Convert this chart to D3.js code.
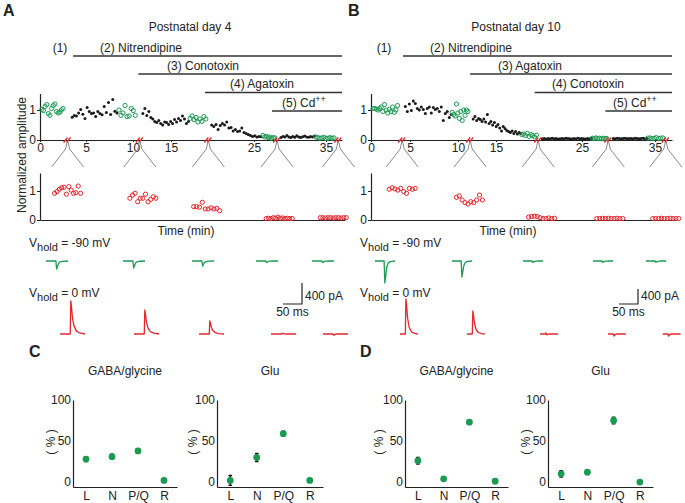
<!DOCTYPE html>
<html><head><meta charset="utf-8">
<script src="https://cdn.jsdelivr.net/npm/d3@7"></script>
<style>body{margin:0;background:#fff}svg{display:block}</style>
</head><body><svg id="c" width="685" height="503"></svg>
<script>
// ---------------- DATA ----------------
const timeTicks = [0, 5, 10, 15, 25, 35];
const timeStops = [0, 5, 10, 15, 25, 35, 37.2];
const ampTicks = [0, 1];
const recEnd = 37.2;

// Panel A (P4)
const drugsA = ["(2) Nitrendipine", "(3) Conotoxin", "(4) Agatoxin", "(5) Cd"];
const drugStartA = [3.6, 10.7, 19.1, 27.5];
const segKindA = ["s","d","s","d","s","d","s","d","s"];
const segStartA = [0.2, 3.5, 8.5, 11.3, 17.3, 19.9, 26.25, 28.75, 33.6];
const segEndA = [2.5, 8.3, 10.3, 17.1, 19.2, 26.0, 27.9, 33.4, 36.1];
const segValsA = [
  [1.02,0.98,1.12,1.18,0.88,0.82,1.05,1.15,1.2,0.95,0.9,0.93,1.0,1.05],
  [0.76,0.82,0.8,0.9,1.02,0.86,0.72,1.08,0.95,0.88,0.9,0.78,0.95,0.88,0.84,1.12,0.92,1.25,0.85,1.35,0.96,0.9],
  [1.0,0.82,0.9,1.15,0.78,0.8,1.05,0.98,0.82],
  [0.88,1.05,0.82,0.95,0.75,0.7,0.62,0.58,0.65,0.55,0.5,0.6,0.58,0.52,0.62,0.55,0.68,0.6,0.72,0.65,0.8,0.7,0.55,0.62],
  [0.72,0.8,0.68,0.75,0.6,0.7,0.62,0.78,0.7],
  [0.5,0.45,0.52,0.35,0.48,0.55,0.5,0.6,0.4,0.42,0.3,0.35,0.28,0.3,0.4,0.25,0.22,0.18,0.15,0.12,0.14,0.1,0.12,0.11],
  [0.15,0.1,0.12,0.08,0.1,0.06,0.08,0.07],
  [0.08,0.12,0.1,0.15,0.1,0.08,0.12,0.09,0.14,0.1,0.08,0.11,0.13,0.1,0.09,0.12,0.1,0.13],
  [0.1,0.08,0.06,0.07,0.09,0.05,0.06,0.08,0.06,0.07]
];
const breakTimesA = [3.0, 10.9, 19.5, 28.2, 36.7];
const groupTimesA = [3.0, 11.3, 19.3, 28.5, 36.0];
const groupValsA = [
  [0.92,0.98,1.06,1.11,1.13,0.89,1.15,1.03,0.92,0.94,1.17,0.92],
  [0.75,0.86,0.92,0.63,0.75,0.75,0.89,0.63,0.71,0.8,0.75],
  [0.46,0.46,0.44,0.61,0.38,0.38,0.42,0.38,0.4,0.32],
  [0.05,0.06,0.05,0.08,0.06,0.1,0.06,0.07,0.05,0.06,0.05,0.05],
  [0.08,0.08,0.07,0.08,0.08,0.07,0.08,0.08,0.07,0.08,0.08]
];

// Panel B (P10)
const drugsB = ["(2) Nitrendipine", "(3) Agatoxin", "(4) Conotoxin", "(5) Cd"];
const drugStartB = [4.1, 11.6, 19.5, 28.2];
const segKindB = ["s","d","s","d","s","d","s","d","s"];
const segStartB = [0.26, 4.4, 9.4, 12.0, 18.0, 20.4, 26.4, 29.3, 34.0];
const segEndB = [3.4, 9.3, 11.3, 17.9, 19.7, 26.3, 28.4, 33.9, 36.0];
const segValsB = [
  [1.05,1.05,1.03,1.0,1.05,1.1,0.95,1.18,1.0,0.9,1.02,0.95,1.1,0.92,1.0,1.15],
  [1.12,0.95,1.2,0.98,1.3,1.22,1.05,1.0,1.1,1.02,0.88,1.05,1.1,0.9,1.08,1.02,1.05,0.95,1.1,0.65,0.88,0.95,0.75,0.85],
  [0.92,0.85,0.8,1.2,0.9,0.72,0.95,0.65,1.0,0.82,1.0,0.95],
  [0.7,0.78,0.65,0.72,0.68,0.62,0.7,0.6,0.85,0.55,0.62,0.5,0.58,0.45,0.52,0.4,0.3,0.45,0.38,0.32,0.28,0.25,0.3,0.22,0.28,0.2,0.25,0.22],
  [0.18,0.2,0.15,0.22,0.12,0.18,0.15,0.1,0.16],
  [0.04,0.05,0.03,0.05,0.04,0.06,0.04,0.05,0.03,0.04,0.05,0.04,0.06,0.05,0.04,0.03,0.05,0.04,0.06,0.04,0.05,0.04,0.03,0.05,0.04,0.05],
  [0.06,0.05,0.07,0.05,0.06,0.04,0.06,0.05,0.05],
  [0.05,0.04,0.06,0.05,0.04,0.05,0.06,0.04,0.05,0.05,0.04,0.06,0.05,0.04,0.05,0.06,0.04,0.05],
  [0.06,0.07,0.05,0.06,0.08,0.05,0.06,0.07]
];
const breakTimesB = [4.0, 11.6, 19.9, 28.6, 36.4];
const groupTimesB = [4.0, 11.5, 20.3, 28.8, 36.4];
const groupValsB = [
  [1.06,1.11,1.07,1.03,1.09,0.98,0.92,1.09,1.06,1.09],
  [0.78,0.83,0.69,0.6,0.55,0.63,0.6,0.69,0.86,0.69],
  [0.1,0.12,0.13,0.12,0.08,0.05,0.05,0.07,0.05,0.06],
  [0.05,0.05,0.06,0.05,0.06,0.05,0.05,0.06,0.05,0.05],
  [0.05,0.05,0.05,0.06,0.05,0.05,0.06,0.05,0.05,0.05]
];

// Example traces (ms, pA)
const msGreenA = [0,26,28,30,33,37,43,58];
const greenA = [
  [0,0,-152,-110,-45,-18,-6,0],
  [0,0,-133,-95,-40,-15,-5,0],
  [0,0,-95,-65,-28,-10,-3,0],
  [0,0,-30,-20,-8,-3,0,0],
  [0,0,-30,-18,-8,-3,0,0]
];
const msRedA = [0,27,28.5,30,33,37,43,52,66];
const redA = [
  [0,0,630,540,300,150,60,20,0],
  [0,0,457,390,220,110,45,15,0],
  [0,0,248,210,120,60,25,8,0],
  [0,0,12,10,5,2,0,0,0],
  [0,0,-25,-15,-5,0,0,0,0]
];
const msGreenB = [0,24,26,28,31,35,41,53];
const greenB = [
  [0,0,-587,-420,-160,-50,-15,0],
  [0,0,-427,-300,-120,-40,-10,0],
  [0,0,-40,-25,-10,-3,0,0],
  [0,0,-35,-22,-8,-2,0,0],
  [0,0,-35,-22,-8,-2,0,0]
];
const msRedB = [0,14,15.5,17,20,24,30,38,47];
const redB = [
  [0,0,933,800,420,180,60,15,0],
  [0,0,613,520,280,120,40,10,0],
  [0,0,30,-25,-8,0,0,0,0],
  [0,0,-55,-30,-10,0,0,0,0],
  [0,0,-55,-30,-10,0,0,0,0]
];

// C / D summary (%)
const channels = ["L", "N", "P/Q", "R"];
const gabaP4 = [28, 31, 38, 2];
const gabaP4Err = [3, 3, 1.5, 1];
const gluP4 = [2, 30, 59, 2];
const gluP4Err = [6, 5, 3, 1];
const gabaP10 = [26, 4, 73, 1];
const gabaP10Err = [4, 1, 1, 1];
const gluP10 = [10, 12, 75, 0];
const gluP10Err = [4, 1, 4, 1];
const pctTicks = [0, 50, 100];

// ---------------- LAYOUT / STYLE ----------------
const FONT = "'Liberation Sans', Arial, Helvetica, sans-serif";
const GREEN = "#1b9a52", RED = "#e3262d", DOT = "#1a1a1a", INK = "#222";
const svg = d3.select("#c").style("font-family", FONT);
const fmt = d3.format("d");

function styleAxis(g) {
  g.selectAll("path.domain").attr("stroke", INK).attr("stroke-width", 1.2);
  g.selectAll(".tick line").attr("stroke", INK);
  g.selectAll("text").attr("font-size", 12).attr("fill", INK).attr("font-family", FONT);
}

function timePanel(p) {
  const g = svg.append("g");
  const x = d3.scaleLinear().domain(timeStops).range(p.stops);
  const yT = d3.scaleLinear().domain([0, 1.55]).range([140, 93.5]);
  const yL = d3.scaleLinear().domain([0, 1.62]).range([220, 173]);

  g.append("text").attr("x", p.letterX).attr("y", 16).attr("font-size", 16).attr("font-weight", "bold").attr("fill", INK).text(p.letter);
  g.append("text").attr("x", p.titleX).attr("y", 31).attr("text-anchor", "middle").attr("font-size", 12).attr("fill", INK).text(p.title);
  g.append("text").attr("x", p.oneX).attr("y", 52).attr("text-anchor", "middle").attr("font-size", 12).attr("fill", INK).text("(1)");

  const lineY = [56, 74, 92.5, 111];
  p.drugStart.forEach((t, i) => {
    g.append("line").attr("x1", x(t)).attr("x2", x(recEnd)).attr("y1", lineY[i]).attr("y2", lineY[i])
      .attr("stroke", "#333").attr("stroke-width", 1.3);
    const tx = g.append("text").attr("x", p.labelX[i]).attr("y", lineY[i] - 4.5).attr("font-size", 12).attr("fill", INK).text(p.drugs[i]);
    if (i === 3) tx.append("tspan").attr("dy", -5).attr("font-size", 9).text("++");
  });

  // top axes
  const ax = g.append("g").attr("transform", "translate(0,140)")
    .call(d3.axisBottom(x).tickValues(timeTicks).tickSize(2).tickSizeOuter(0).tickPadding(1).tickFormat(fmt));
  styleAxis(ax);
  const ay = g.append("g").attr("transform", `translate(${x(0)},0)`)
    .call(d3.axisLeft(yT).tickValues(ampTicks).tickSize(3).tickSizeOuter(0).tickPadding(1).tickFormat(fmt));
  styleAxis(ay);

  // top scatter
  p.segVals.forEach((vals, i) => {
    const ps = d3.scalePoint().domain(d3.range(vals.length)).range([x(p.segStart[i]), x(p.segEnd[i])]);
    const sel = g.append("g").selectAll("circle").data(vals).join("circle")
      .attr("cx", (d, j) => ps(j)).attr("cy", d => yT(d));
    if (p.segKind[i] === "s") sel.attr("r", 2.1).attr("fill", "none").attr("stroke", GREEN).attr("stroke-width", 1);
    else sel.attr("r", 1.5).attr("fill", DOT);
  });

  // break marks + connectors
  p.breaks.forEach(t => {
    const bx = x(t);
    g.append("path").attr("d", `M${bx-4},142.5L${bx},137.5M${bx-1},142.5L${bx+3},137.5`)
      .attr("stroke", RED).attr("stroke-width", 1.3).attr("fill", "none");
    g.append("path").attr("d", `M${bx-16},167L${bx-2},149L${bx-0.5},142M${bx+0.5},142L${bx+2},149L${bx+16},167`)
      .attr("stroke", "#8a8a8a").attr("stroke-width", 1).attr("fill", "none");
  });

  // lower expanded panel
  const xl = d3.scaleLinear().domain([0, 37.6]).range([x(0), x(37.6)]);
  const lx = g.append("g").attr("transform", "translate(0,220)")
    .call(d3.axisBottom(xl).tickValues([]).tickSizeOuter(0));
  styleAxis(lx);
  const ly = g.append("g").attr("transform", `translate(${x(0)},0)`)
    .call(d3.axisLeft(yL).tickValues(ampTicks).tickSize(3).tickSizeOuter(0).tickPadding(1).tickFormat(fmt));
  styleAxis(ly);
  p.groupVals.forEach((vals, i) => {
    const cx = x(p.groupTimes[i]);
    const ps = d3.scalePoint().domain(d3.range(vals.length)).range([cx - 13, cx + 13]);
    g.append("g").selectAll("circle").data(vals).join("circle")
      .attr("cx", (d, j) => ps(j)).attr("cy", d => yL(d)).attr("r", 2.1)
      .attr("fill", "none").attr("stroke", RED).attr("stroke-width", 1);
  });
  g.append("text").attr("x", p.timeLabelX).attr("y", 235).attr("text-anchor", "middle").attr("font-size", 12).attr("fill", INK).text("Time (min)");

  // Vhold labels
  const vh = (yy, txt) => {
    const t = g.append("text").attr("x", p.vX).attr("y", yy).attr("font-size", 12).attr("fill", INK);
    t.append("tspan").text("V");
    t.append("tspan").attr("dy", 4).attr("font-size", 11).text("hold");
    t.append("tspan").attr("dy", -4).text(" = " + txt);
  };
  vh(247, "-90 mV");
  vh(297, "0 mV");

  // traces
  const ms = d3.scaleLinear().domain([0, 50]).range([0, 19]);
  const pa = d3.scaleLinear().domain([0, 400]).range([0, -p.pa400]);
  const drawTr = (sets, tms, starts, base, col) => {
    sets.forEach((vals, i) => {
      const x0 = x(starts[i]);
      const line = d3.line().x((d, j) => x0 + ms(tms[j])).y(d => base + pa(d));
      g.append("path").attr("d", line(vals)).attr("fill", "none").attr("stroke", col).attr("stroke-width", 1.3).attr("stroke-linejoin", "round");
    });
  };
  drawTr(p.green, p.msGreen, p.greenStart, 261, GREEN);
  drawTr(p.red, p.msRed, p.redStart, 334, RED);

  // scale bar
  const sb = p.scaleBar;
  g.append("path").attr("d", `M${sb[0] + ms(-50)},${sb[1]}H${sb[0]}V${sb[1] + pa(400)}`)
    .attr("fill", "none").attr("stroke", INK).attr("stroke-width", 1.2);
  g.append("text").attr("x", sb[0] + 3).attr("y", 300).attr("font-size", 12).attr("fill", INK).text("400 pA");
  g.append("text").attr("x", sb[0] + ms(-25)).attr("y", 316).attr("text-anchor", "middle").attr("font-size", 12).attr("fill", INK).text("50 ms");
}

timePanel({
  letter: "A", letterX: 3, title: "Postnatal day 4", titleX: 190, oneX: 60,
  stops: [40, 86, 133, 171, 254, 326, 342],
  drugs: drugsA, drugStart: drugStartA, labelX: [100, 167, 230, 282],
  segKind: segKindA, segStart: segStartA, segEnd: segEndA, segVals: segValsA,
  breaks: breakTimesA, groupTimes: groupTimesA, groupVals: groupValsA,
  timeLabelX: 186, vX: 29, pa400: 21,
  green: greenA, msGreen: msGreenA, greenStart: [0.65, 8.94, 17.53, 25.28, 33.06],
  red: redA, msRed: msRedA, redStart: [2.17, 10.13, 18.37, 27.36, 34.58],
  scaleBar: [302, 304]
});
timePanel({
  letter: "B", letterX: 348, title: "Postnatal day 10", titleX: 516, oneX: 384,
  stops: [371, 410, 458, 496, 582, 655, 672],
  drugs: drugsB, drugStart: drugStartB, labelX: [430, 498, 552, 613],
  segKind: segKindB, segStart: segStartB, segEnd: segEndB, segVals: segValsB,
  breaks: breakTimesB, groupTimes: groupTimesB, groupVals: groupValsB,
  timeLabelX: 508, vX: 360, pa400: 15,
  green: greenB, msGreen: msGreenB, greenStart: [0.51, 9.38, 18.14, 26.51, 33.77],
  red: redB, msRed: msRedB, redStart: [3.72, 11.18, 20.12, 28.56, 36.0],
  scaleBar: [638, 304]
});

// normalized amplitude label
svg.append("text").attr("transform", "translate(26,155) rotate(-90)").attr("text-anchor", "middle")
  .attr("font-size", 12).attr("fill", INK).text("Normalized amplitude");

// ---------------- C / D ----------------
function pctPlot(x0, x1, vals, errs, title, labX) {
  const g = svg.append("g");
  const y = d3.scaleLinear().domain([-6, 100]).range([487, 400]);
  const x = d3.scalePoint().domain(channels).range([x0, x1]).padding(0.5);
  const ay = g.append("g").attr("transform", `translate(${x0},0)`)
    .call(d3.axisLeft(y).tickValues(pctTicks).tickSize(0).tickPadding(2).tickSizeOuter(0).tickFormat(fmt));
  styleAxis(ay);
  const axx = g.append("g").attr("transform", "translate(0,487)")
    .call(d3.axisBottom(x).tickSize(0).tickPadding(4).tickSizeOuter(0));
  styleAxis(axx);
  g.append("text").attr("x", (x0 + x1) / 2).attr("y", 375).attr("text-anchor", "middle").attr("font-size", 12).attr("fill", INK).text(title);
  g.append("text").attr("transform", `translate(${labX},442) rotate(-90)`).attr("text-anchor", "middle")
    .attr("font-size", 12).attr("fill", INK).attr("xml:space", "preserve").text("( % )");
  channels.forEach((c, i) => {
    const cx = x(c);
    g.append("path").attr("d", `M${cx},${y(vals[i] - errs[i])}V${y(vals[i] + errs[i])}M${cx-1.8},${y(vals[i] - errs[i])}H${cx+1.8}M${cx-1.8},${y(vals[i] + errs[i])}H${cx+1.8}`)
      .attr("stroke", "#111").attr("stroke-width", 1.4).attr("fill", "none");
    g.append("circle").attr("cx", cx).attr("cy", y(vals[i])).attr("r", 3.4).attr("fill", GREEN);
  });
}
svg.append("text").attr("x", 29).attr("y", 357).attr("font-size", 16).attr("font-weight", "bold").attr("fill", INK).text("C");
svg.append("text").attr("x", 360).attr("y", 357).attr("font-size", 16).attr("font-weight", "bold").attr("fill", INK).text("D");
pctPlot(73, 177, gabaP4, gabaP4Err, "GABA/glycine", 55);
pctPlot(217, 323, gluP4, gluP4Err, "Glu", 197);
pctPlot(405, 508, gabaP10, gabaP10Err, "GABA/glycine", 383);
pctPlot(548, 653, gluP10, gluP10Err, "Glu", 530);
</script></body></html>
